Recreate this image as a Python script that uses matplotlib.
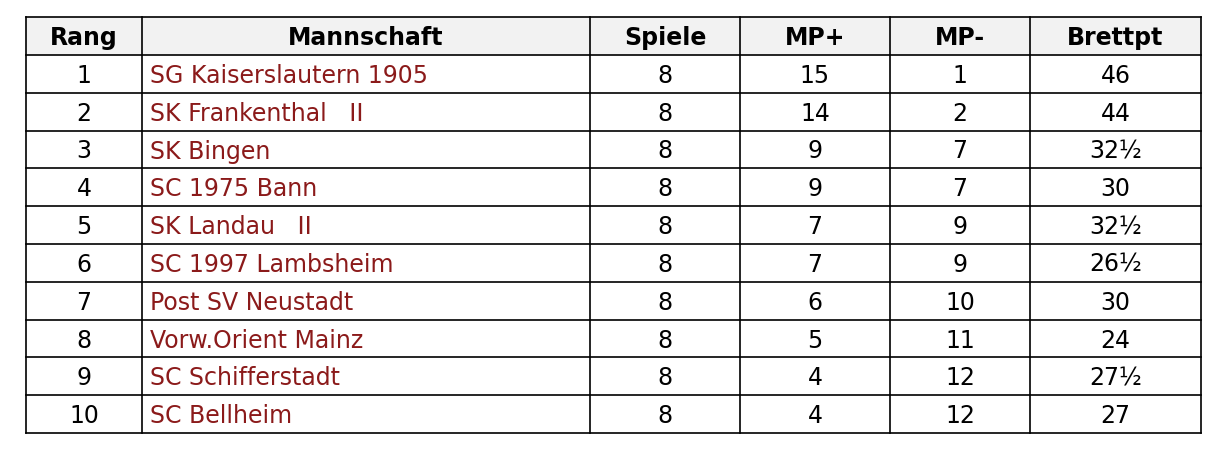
import matplotlib
matplotlib.use("Agg")
import matplotlib.pyplot as plt
from matplotlib.patches import Rectangle

headers = ["Rang", "Mannschaft", "Spiele", "MP+", "MP-", "Brettpt"]
rang = [1, 2, 3, 4, 5, 6, 7, 8, 9, 10]
teams = ["SG Kaiserslautern 1905", "SK Frankenthal   II", "SK Bingen", "SC 1975 Bann",
         "SK Landau   II", "SC 1997 Lambsheim", "Post SV Neustadt", "Vorw.Orient Mainz",
         "SC Schifferstadt", "SC Bellheim"]
spiele = [8] * 10
mp_plus = [15, 14, 9, 9, 7, 7, 6, 5, 4, 4]
mp_minus = [1, 2, 7, 7, 9, 9, 10, 11, 12, 12]
brettpt = ["46", "44", "32½", "30", "32½", "26½", "30", "24", "27½", "27"]

W, H = 1217, 451
fig = plt.figure(figsize=(W / 100, H / 100), dpi=100)
ax = fig.add_axes([0, 0, 1, 1])
ax.set_xlim(0, W)
ax.set_ylim(H, 0)
ax.axis("off")

xs = [26, 142, 590, 740, 890, 1030, 1201]
top, head_bot, row_h = 17, 55, 37.8
bottom = head_bot + row_h * len(rang)
font = "DejaVu Sans"
fs = 17

ax.add_patch(Rectangle((xs[0], top), xs[-1] - xs[0], head_bot - top, facecolor="#f2f2f2", edgecolor="none"))
for x in xs:
    ax.plot([x, x], [top, bottom], color="black", lw=1.2)
ys = [top, head_bot] + [head_bot + row_h * (i + 1) for i in range(len(rang))]
for y in ys:
    ax.plot([xs[0], xs[-1]], [y, y], color="black", lw=1.2)

for j, h in enumerate(headers):
    ax.text((xs[j] + xs[j + 1]) / 2, (top + head_bot) / 2 + 2, h, ha="center", va="center",
            fontsize=fs, fontweight="bold", family=font, color="black")

for i in range(len(rang)):
    yc = head_bot + row_h * (i + 0.5) + 2
    cols = [str(rang[i]), None, str(spiele[i]), str(mp_plus[i]), str(mp_minus[i]), brettpt[i]]
    for j, v in enumerate(cols):
        if j == 1:
            ax.text(xs[1] + 8, yc, teams[i], ha="left", va="center", fontsize=fs,
                    family=font, color="#8b1a1a")
        else:
            ax.text((xs[j] + xs[j + 1]) / 2, yc, v, ha="center", va="center", fontsize=fs,
                    family=font, color="black")

fig.savefig("out.png", dpi=100, facecolor="white")
